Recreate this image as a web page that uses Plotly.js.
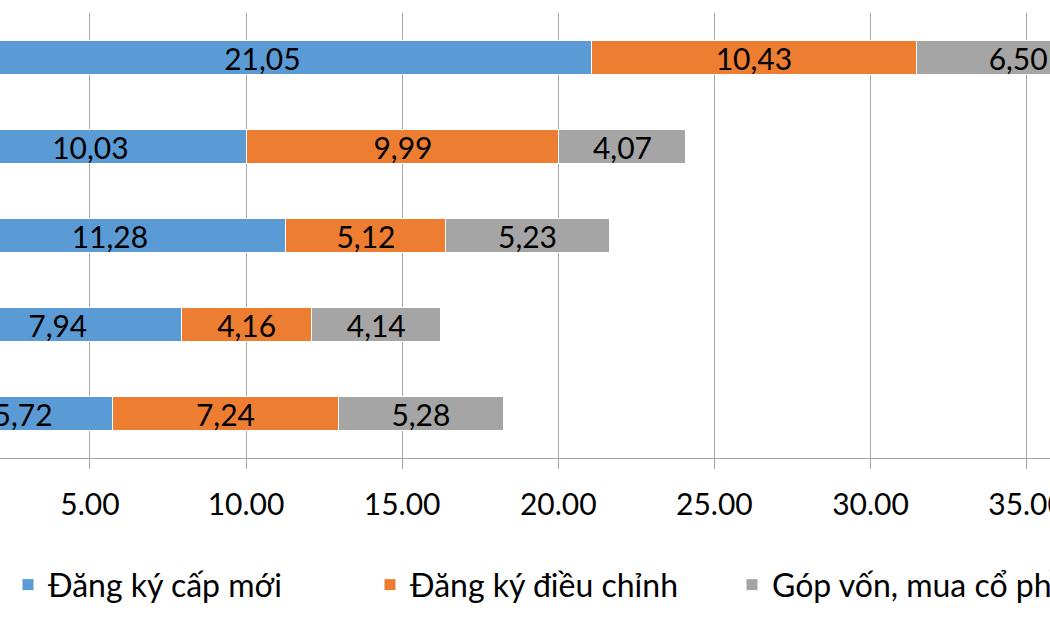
<!DOCTYPE html>
<html>
<head>
<meta charset="utf-8">
<script src="https://cdn.plot.ly/plotly-3.0.1.min.js"></script>
<style>
html,body{margin:0;padding:0;background:#fff;overflow:hidden;width:1050px;height:630px;}
#chart{width:1250px;height:630px;}
</style>
</head>
<body>
<div id="chart"></div>
<script>
// Categories (bottom to top); their labels fall outside the visible crop
const categories = ["2020", "2021", "2022", "2023", "2024"];
const newReg = [5.72, 7.94, 11.28, 10.03, 21.05];
const adjReg = [7.24, 4.16, 5.12, 9.99, 10.43];
const capContrib = [5.28, 4.14, 5.23, 4.07, 6.50];
const seriesNames = ["Đăng ký cấp mới", "Đăng ký điều chỉnh", "Góp vốn, mua cổ phần"];
const seriesColors = ["#5B9BD5", "#ED7D31", "#A5A5A5"];
const tickValues = [0, 5, 10, 15, 20, 25, 30, 35, 40];

const FONT = "Lato, 'Open Sans', sans-serif";
const fmt = v => v.toFixed(2).replace('.', ',');

const data = [newReg, adjReg, capContrib].map((vals, i) => ({
  type: 'bar',
  orientation: 'h',
  y: categories,
  x: vals,
  name: seriesNames[i],
  marker: {color: seriesColors[i], line: {color: '#ffffff', width: 1}},
  text: vals.map(fmt),
  textposition: 'inside',
  insidetextanchor: 'middle',
  constraintext: 'none',
  textfont: {family: FONT, size: 30, color: '#000000'},
  hoverinfo: 'x+name'
}));

const layout = {
  width: 1250,
  height: 630,
  margin: {l: 0, r: 200, t: 13, b: 172, pad: 0},
  barmode: 'stack',
  bargap: 0.615,
  paper_bgcolor: '#ffffff',
  plot_bgcolor: '#ffffff',
  font: {family: FONT, size: 30, color: '#000000'},
  xaxis: {
    range: [2.12, 35.75],
    tickvals: tickValues,
    tickformat: '.2f',
    automargin: false,
    ticklabeloverflow: 'allow',
    ticklabelstandoff: 10,
    showgrid: true,
    gridcolor: '#A6A6A6',
    gridwidth: 1,
    zeroline: false,
    showline: true,
    linecolor: '#A6A6A6',
    linewidth: 1,
    ticks: 'outside',
    ticklen: 10,
    tickcolor: '#A6A6A6',
    tickfont: {family: FONT, size: 30, color: '#000000'},
    fixedrange: true
  },
  yaxis: {
    type: 'category',
    automargin: false,
    showgrid: false,
    zeroline: false,
    showline: false,
    ticks: '',
    fixedrange: true
  },
  showlegend: true,
  legend: {
    orientation: 'h',
    x: 1.0419,
    xanchor: 'right',
    y: -0.285,
    yanchor: 'middle',
    traceorder: 'normal',
    font: {family: FONT, size: 32, color: '#000000'},
    entrywidth: 317,
    entrywidthmode: 'pixels',
    bgcolor: 'rgba(0,0,0,0)'
  }
};

Plotly.newPlot('chart', data, layout, {displayModeBar: false, staticPlot: true});
</script>
</body>
</html>
